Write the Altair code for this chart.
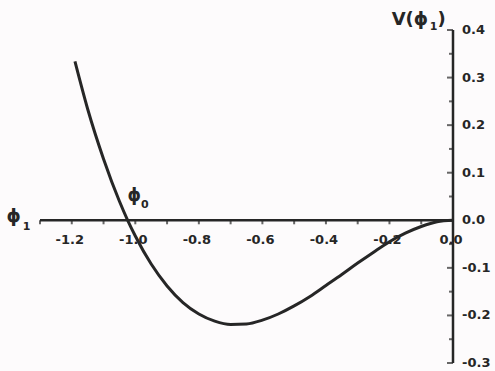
import altair as alt
import pandas as pd

# Potential curve V(phi1)
phi = [-1.19, -1.15, -1.10, -1.05, -1.024, -1.00, -0.95, -0.90, -0.85, -0.80,
       -0.75, -0.70, -0.65, -0.60, -0.55, -0.50, -0.45, -0.40, -0.35, -0.30,
       -0.25, -0.20, -0.15, -0.10, -0.05, 0.00]
V = [0.334, 0.234, 0.129, 0.040, 0.000, -0.033, -0.092, -0.138, -0.173, -0.197,
     -0.212, -0.219, -0.218, -0.210, -0.197, -0.180, -0.160, -0.137, -0.114, -0.090,
     -0.067, -0.045, -0.027, -0.013, -0.003, 0.000]

# axis ticks and labels
x_ticks = [-1.3, -1.2, -1.1, -1.0, -0.9, -0.8, -0.7, -0.6, -0.5, -0.4, -0.3, -0.2, -0.1, 0.0]
x_labels = [-1.2, -1.0, -0.8, -0.6, -0.4, -0.2, 0.0]
y_major = [0.4, 0.3, 0.2, 0.1, 0.0, -0.1, -0.2, -0.3]
y_minor = [0.35, 0.25, 0.15, 0.05, -0.05, -0.15, -0.25]

# text annotations: text, x, y, font size, alignment
PHI = "\u03d5"
ann_text = [PHI, "1", "V(" + PHI, "1", ")", PHI, "0"]
ann_x = [-1.383, -1.342, -0.193, -0.061, -0.049, -1.003, -0.970]
ann_y = [0.006, -0.014, 0.421, 0.406, 0.421, 0.051, 0.032]
ann_size = [18, 11, 18, 11, 18, 17, 11]
ann_align = ["center", "center", "left", "center", "left", "center", "center"]

INK = "#262626"
FONT = "DejaVu Sans"

X = alt.Scale(domain=[-1.3, 0.0], nice=False, zero=False)
Y = alt.Scale(domain=[-0.3, 0.4], nice=False, zero=False)

curve_df = pd.DataFrame({"phi": phi, "V": V})
xt_df = pd.DataFrame({"t": x_ticks, "z": 0.0})
xl_df = pd.DataFrame({"t": x_labels, "z": 0.0, "lab": [f"{v:.1f}" for v in x_labels]})
ymj_df = pd.DataFrame({"t": y_major, "z": 0.0, "lab": [f"{v:.1f}" for v in y_major]})
ymn_df = pd.DataFrame({"t": y_minor, "z": 0.0})
xax_df = pd.DataFrame({"x": [-1.3], "x2": [0.0], "y": [0.0]})
yax_df = pd.DataFrame({"x": [0.0], "y": [-0.3], "y2": [0.4]})


def xq(field):
    return alt.X(field, type="quantitative", scale=X, axis=None)


def yq(field):
    return alt.Y(field, type="quantitative", scale=Y, axis=None)


curve = alt.Chart(curve_df).mark_line(
    interpolate="monotone", strokeWidth=3, color=INK
).encode(x=xq("phi"), y=yq("V"))

x_axis = alt.Chart(xax_df).mark_rule(strokeWidth=2.5, color=INK).encode(
    x=xq("x"), x2="x2", y=yq("y")
)
y_axis = alt.Chart(yax_df).mark_rule(strokeWidth=2.5, color=INK).encode(
    x=xq("x"), y=yq("y"), y2="y2"
)

x_tick_marks = alt.Chart(xt_df).mark_tick(
    orient="vertical", size=4, thickness=2, yOffset=2, color=INK
).encode(x=xq("t"), y=yq("z"))

y_major_marks = alt.Chart(ymj_df).mark_tick(
    orient="horizontal", size=6, thickness=2, xOffset=-3, color=INK
).encode(y=yq("t"), x=xq("z"))

y_minor_marks = alt.Chart(ymn_df).mark_tick(
    orient="horizontal", size=4, thickness=2, xOffset=-2, color=INK
).encode(y=yq("t"), x=xq("z"))

x_label_text = alt.Chart(xl_df).mark_text(
    font=FONT, fontSize=13, fontWeight="bold", color=INK,
    align="center", baseline="middle", dy=20, dx=-2
).encode(x=xq("t"), y=yq("z"), text="lab:N")

y_label_text = alt.Chart(ymj_df).mark_text(
    font=FONT, fontSize=13, fontWeight="bold", color=INK,
    align="left", baseline="middle", dx=9
).encode(y=yq("t"), x=xq("z"), text="lab:N")

annotations = []
for t, ax, ay, sz, al in zip(ann_text, ann_x, ann_y, ann_size, ann_align):
    d = pd.DataFrame({"x": [ax], "y": [ay], "t": [t]})
    annotations.append(
        alt.Chart(d).mark_text(
            font=FONT, fontSize=sz, fontWeight="bold", color=INK,
            align=al, baseline="middle"
        ).encode(x=xq("x"), y=yq("y"), text="t:N")
    )

chart = alt.layer(
    curve, x_axis, y_axis, x_tick_marks, y_major_marks, y_minor_marks,
    x_label_text, y_label_text, *annotations
).properties(
    width=413, height=333,
    background="#fdfbfc",
    padding={"left": 40, "top": 30, "right": 42, "bottom": 8},
    autosize=alt.AutoSizeParams(type="none"),
).configure_view(stroke=None)

chart.save("out.html", embed_options={"renderer": "svg", "actions": False})
